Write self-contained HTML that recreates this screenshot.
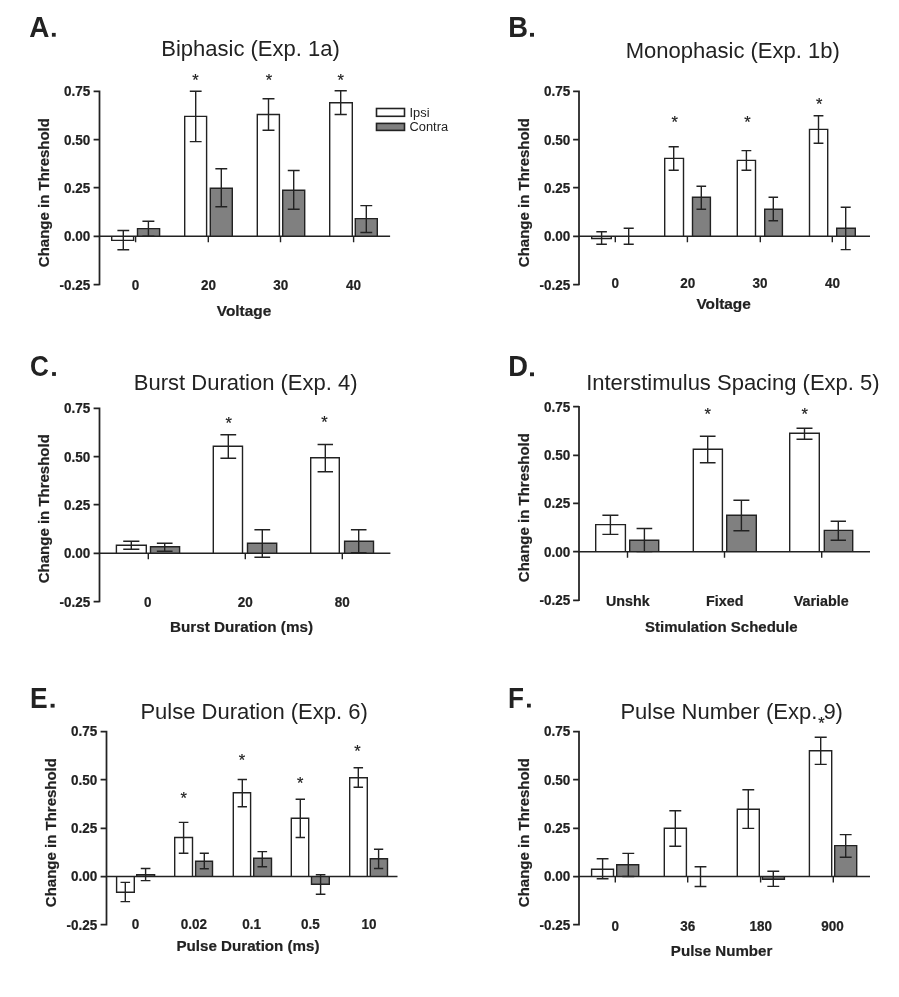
<!DOCTYPE html>
<html><head><meta charset="utf-8"><title>Figure</title>
<style>
html,body{margin:0;padding:0;background:#fff;}
body{width:899px;height:997px;overflow:hidden;}
svg{display:block;will-change:transform;}
text{font-family:"Liberation Sans", sans-serif;fill:#222;}
.let{font-size:29.7px;font-weight:bold;}
.tit{font-size:22px;text-anchor:middle;}
.tk{font-size:13.5px;font-weight:bold;stroke:#222;stroke-width:0.2px;}
.ax{font-size:15.4px;font-weight:bold;stroke:#222;stroke-width:0.2px;}
.st{font-size:16.5px;stroke:#222;stroke-width:0.2px;}
.lg{font-size:12.85px;}
.ln{fill:none;stroke:#222;stroke-width:1.4;stroke-linecap:butt;}
</style></head>
<body>
<svg width="899" height="997" viewBox="0 0 899 997">
<rect width="899" height="997" fill="#fff"/>
<text class="let" transform="translate(29.21 36.7) scale(0.94 1)">A</text>
<rect x="51.9" y="32.9" width="3.8" height="3.8" fill="#222"/>
<text class="tit" x="250.5" y="56.3">Biphasic (Exp. 1a)</text>
<rect x="111.7" y="236.3" width="21.9" height="4.1" fill="#fff"/>
<rect x="137.5" y="228.6" width="22.1" height="7.7" fill="#808080"/>
<rect x="184.7" y="116.4" width="21.9" height="119.9" fill="#fff"/>
<rect x="210.3" y="188.3" width="22" height="48" fill="#808080"/>
<rect x="257.3" y="114.5" width="22.1" height="121.8" fill="#fff"/>
<rect x="282.7" y="190.3" width="22" height="46" fill="#808080"/>
<rect x="329.7" y="102.7" width="22.6" height="133.6" fill="#fff"/>
<rect x="355.3" y="218.6" width="22" height="17.7" fill="#808080"/>
<path class="ln" d="M99.5 236.3H390.1"/>
<path class="ln" style="stroke-width:1.75" d="M99.5 90.61V285.33M93.6 284.63H99.5M93.6 236.3H99.5M93.6 187.7H99.5M93.6 139.64H99.5M93.6 91.31H99.5"/>
<path class="ln" d="M135.6 236.3V242.3M208.3 236.3V242.3M280.5 236.3V242.3M353.6 236.3V242.3"/>
<path class="ln" d="M111.7 236.3V240.4H133.6V236.3"/>
<path class="ln" d="M123.3 230.5V249.7M117.39 230.5H129.21M117.39 249.7H129.21"/>
<path class="ln" d="M137.5 236.3V228.6H159.6V236.3"/>
<path class="ln" d="M148.4 221.3V236.3M142.43 221.3H154.37M142.43 236.3H154.37"/>
<path class="ln" d="M184.7 236.3V116.4H206.6V236.3"/>
<path class="ln" d="M195.7 91.3V141.6M189.79 91.3H201.61M189.79 141.6H201.61"/>
<path class="ln" d="M210.3 236.3V188.3H232.3V236.3"/>
<path class="ln" d="M221.3 168.7V206.7M215.36 168.7H227.24M215.36 206.7H227.24"/>
<path class="ln" d="M257.3 236.3V114.5H279.4V236.3"/>
<path class="ln" d="M268.5 98.7V130.3M262.53 98.7H274.47M262.53 130.3H274.47"/>
<path class="ln" d="M282.7 236.3V190.3H304.7V236.3"/>
<path class="ln" d="M293.7 170.5V209.3M287.76 170.5H299.64M287.76 209.3H299.64"/>
<path class="ln" d="M329.7 236.3V102.7H352.3V236.3"/>
<path class="ln" d="M340.7 90.7V114.5M334.6 90.7H346.8M334.6 114.5H346.8"/>
<path class="ln" d="M355.3 236.3V218.6H377.3V236.3"/>
<path class="ln" d="M366.3 205.6V232.5M360.36 205.6H372.24M360.36 232.5H372.24"/>
<text class="tk" text-anchor="end" transform="translate(90.2 289.53) scale(1 1.1)">-0.25</text>
<text class="tk" text-anchor="end" transform="translate(90.2 241.2) scale(1 1.1)">0.00</text>
<text class="tk" text-anchor="end" transform="translate(90.2 192.87) scale(1 1.1)">0.25</text>
<text class="tk" text-anchor="end" transform="translate(90.2 144.54) scale(1 1.1)">0.50</text>
<text class="tk" text-anchor="end" transform="translate(90.2 96.21) scale(1 1.1)">0.75</text>
<text class="ax" style="font-size:15.0px" text-anchor="middle" transform="translate(49.3 192.6) rotate(-90) scale(1 0.97)">Change in Threshold</text>
<text class="tk" style="font-size:13.5px" text-anchor="middle" transform="translate(135.6 290.4) scale(1 1.1)">0</text>
<text class="tk" style="font-size:13.5px" text-anchor="middle" transform="translate(208.5 290.4) scale(1 1.1)">20</text>
<text class="tk" style="font-size:13.5px" text-anchor="middle" transform="translate(280.8 290.4) scale(1 1.1)">30</text>
<text class="tk" style="font-size:13.5px" text-anchor="middle" transform="translate(353.5 290.4) scale(1 1.1)">40</text>
<text class="ax" style="font-size:15.4px" text-anchor="middle" transform="translate(244 315.7) scale(1 1)">Voltage</text>
<text class="st" text-anchor="middle" x="195.4" y="86.06">*</text>
<text class="st" text-anchor="middle" x="268.9" y="86.06">*</text>
<text class="st" text-anchor="middle" x="340.7" y="86.26">*</text>
<rect x="376.5" y="108.5" width="28" height="7.8" fill="#fff" stroke="#222" stroke-width="1.6"/>
<rect x="376.5" y="123.4" width="28" height="7" fill="#808080" stroke="#222" stroke-width="1.6"/>
<text class="lg" x="409.5" y="116.5">Ipsi</text>
<text class="lg" x="409.5" y="130.8">Contra</text>
<text class="let" transform="translate(508.17 36.7) scale(0.92 1)">B</text>
<rect x="530" y="32.9" width="4" height="3.8" fill="#222"/>
<text class="tit" x="732.75" y="58.2">Monophasic (Exp. 1b)</text>
<rect x="591.7" y="236.3" width="19.6" height="2.2" fill="#fff"/>
<rect x="664.7" y="158.4" width="18.8" height="77.9" fill="#fff"/>
<rect x="692.5" y="197.3" width="17.9" height="39" fill="#808080"/>
<rect x="737.3" y="160.4" width="18.2" height="75.9" fill="#fff"/>
<rect x="764.7" y="209.3" width="17.7" height="27" fill="#808080"/>
<rect x="809.5" y="129.4" width="18.2" height="106.9" fill="#fff"/>
<rect x="836.7" y="228.3" width="18.6" height="8" fill="#808080"/>
<path class="ln" d="M579 236.3H870"/>
<path class="ln" style="stroke-width:1.75" d="M579 90.61V285.33M573.1 284.63H579M573.1 236.3H579M573.1 187.7H579M573.1 139.64H579M573.1 91.31H579"/>
<path class="ln" d="M615.3 236.3V242.3M687.4 236.3V242.3M760.3 236.3V242.3M832.3 236.3V242.3"/>
<path class="ln" d="M591.7 236.3V238.5H611.3V236.3"/>
<path class="ln" d="M601.6 231.7V244.3M596.31 231.7H606.89M596.31 244.3H606.89"/>
<path class="ln" d="M628.7 228.3V244.3M623.65 228.3H633.75M623.65 244.3H633.75"/>
<path class="ln" d="M664.7 236.3V158.4H683.5V236.3"/>
<path class="ln" d="M673.7 146.7V170.3M668.62 146.7H678.78M668.62 170.3H678.78"/>
<path class="ln" d="M692.5 236.3V197.3H710.4V236.3"/>
<path class="ln" d="M701.3 186.3V209.3M696.47 186.3H706.13M696.47 209.3H706.13"/>
<path class="ln" d="M737.3 236.3V160.4H755.5V236.3"/>
<path class="ln" d="M746.4 150.6V170.3M741.49 150.6H751.31M741.49 170.3H751.31"/>
<path class="ln" d="M764.7 236.3V209.3H782.4V236.3"/>
<path class="ln" d="M773.3 197.3V220.7M768.52 197.3H778.08M768.52 220.7H778.08"/>
<path class="ln" d="M809.5 236.3V129.4H827.7V236.3"/>
<path class="ln" d="M818.5 115.7V143.3M813.59 115.7H823.41M813.59 143.3H823.41"/>
<path class="ln" d="M836.7 236.3V228.3H855.3V236.3"/>
<path class="ln" d="M845.7 207.3V249.6M840.68 207.3H850.72M840.68 249.6H850.72"/>
<text class="tk" text-anchor="end" transform="translate(570.2 289.53) scale(1 1.1)">-0.25</text>
<text class="tk" text-anchor="end" transform="translate(570.2 241.2) scale(1 1.1)">0.00</text>
<text class="tk" text-anchor="end" transform="translate(570.2 192.87) scale(1 1.1)">0.25</text>
<text class="tk" text-anchor="end" transform="translate(570.2 144.54) scale(1 1.1)">0.50</text>
<text class="tk" text-anchor="end" transform="translate(570.2 96.21) scale(1 1.1)">0.75</text>
<text class="ax" style="font-size:15.0px" text-anchor="middle" transform="translate(529.3 192.6) rotate(-90) scale(1 0.97)">Change in Threshold</text>
<text class="tk" style="font-size:13.5px" text-anchor="middle" transform="translate(615.3 288.1) scale(1 1.1)">0</text>
<text class="tk" style="font-size:13.5px" text-anchor="middle" transform="translate(687.8 288.1) scale(1 1.1)">20</text>
<text class="tk" style="font-size:13.5px" text-anchor="middle" transform="translate(760 288.1) scale(1 1.1)">30</text>
<text class="tk" style="font-size:13.5px" text-anchor="middle" transform="translate(832.5 288.1) scale(1 1.1)">40</text>
<text class="ax" style="font-size:15.4px" text-anchor="middle" transform="translate(723.6 309.4) scale(1 1)">Voltage</text>
<text class="st" text-anchor="middle" x="674.6" y="128.16">*</text>
<text class="st" text-anchor="middle" x="747.4" y="128.16">*</text>
<text class="st" text-anchor="middle" x="819.3" y="109.56">*</text>
<text class="let" transform="translate(29.93 375.9) scale(0.88 1)">C</text>
<rect x="52.1" y="372.1" width="3.8" height="3.8" fill="#222"/>
<text class="tit" x="245.7" y="389.8">Burst Duration (Exp. 4)</text>
<rect x="116.4" y="545.3" width="29.9" height="8" fill="#fff"/>
<rect x="150.5" y="546.7" width="29.1" height="6.6" fill="#808080"/>
<rect x="213.3" y="446.3" width="29.2" height="107" fill="#fff"/>
<rect x="247.5" y="543.3" width="29.2" height="10" fill="#808080"/>
<rect x="310.7" y="457.7" width="28.6" height="95.6" fill="#fff"/>
<rect x="344.6" y="541.3" width="28.9" height="12" fill="#808080"/>
<path class="ln" d="M99.5 553.3H390.4"/>
<path class="ln" style="stroke-width:1.75" d="M99.5 407.61V602.33M93.6 601.63H99.5M93.6 553.3H99.5M93.6 504.7H99.5M93.6 456.64H99.5M93.6 408.31H99.5"/>
<path class="ln" d="M148.3 553.3V559.3M245.3 553.3V559.3M342.3 553.3V559.3"/>
<path class="ln" d="M116.4 553.3V545.3H146.3V553.3"/>
<path class="ln" d="M131.3 541.3V549.3M123.23 541.3H139.37M123.23 549.3H139.37"/>
<path class="ln" d="M150.5 553.3V546.7H179.6V553.3"/>
<path class="ln" d="M164.7 543.3V551.3M156.84 543.3H172.56M156.84 551.3H172.56"/>
<path class="ln" d="M213.3 553.3V446.3H242.5V553.3"/>
<path class="ln" d="M228.3 434.7V458.3M220.42 434.7H236.18M220.42 458.3H236.18"/>
<path class="ln" d="M247.5 553.3V543.3H276.7V553.3"/>
<path class="ln" d="M262.3 529.7V557.3M254.42 529.7H270.18M254.42 557.3H270.18"/>
<path class="ln" d="M310.7 553.3V457.7H339.3V553.3"/>
<path class="ln" d="M325.3 444.5V471.7M317.58 444.5H333.02M317.58 471.7H333.02"/>
<path class="ln" d="M344.6 553.3V541.3H373.5V553.3"/>
<path class="ln" d="M358.7 529.7V552.7M350.9 529.7H366.5M350.9 552.7H366.5"/>
<text class="tk" text-anchor="end" transform="translate(90.2 606.53) scale(1 1.1)">-0.25</text>
<text class="tk" text-anchor="end" transform="translate(90.2 558.2) scale(1 1.1)">0.00</text>
<text class="tk" text-anchor="end" transform="translate(90.2 509.87) scale(1 1.1)">0.25</text>
<text class="tk" text-anchor="end" transform="translate(90.2 461.54) scale(1 1.1)">0.50</text>
<text class="tk" text-anchor="end" transform="translate(90.2 413.21) scale(1 1.1)">0.75</text>
<text class="ax" style="font-size:15.0px" text-anchor="middle" transform="translate(49.3 508.7) rotate(-90) scale(1 0.97)">Change in Threshold</text>
<text class="tk" style="font-size:13.5px" text-anchor="middle" transform="translate(147.8 607.3) scale(1 1.1)">0</text>
<text class="tk" style="font-size:13.5px" text-anchor="middle" transform="translate(245.2 607.3) scale(1 1.1)">20</text>
<text class="tk" style="font-size:13.5px" text-anchor="middle" transform="translate(342.3 607.3) scale(1 1.1)">80</text>
<text class="ax" style="font-size:15.25px" text-anchor="middle" transform="translate(241.5 632.1) scale(1 1.01)">Burst Duration (ms)</text>
<text class="st" text-anchor="middle" x="228.7" y="428.76">*</text>
<text class="st" text-anchor="middle" x="324.5" y="428.36">*</text>
<text class="let" transform="translate(508.18 376.2) scale(0.92 1)">D</text>
<rect x="530" y="372.4" width="4" height="3.8" fill="#222"/>
<text class="tit" x="732.9" y="390">Interstimulus Spacing (Exp. 5)</text>
<rect x="595.7" y="524.6" width="29.7" height="27.1" fill="#fff"/>
<rect x="629.7" y="540.3" width="29" height="11.4" fill="#808080"/>
<rect x="693.3" y="449.3" width="29.1" height="102.4" fill="#fff"/>
<rect x="726.7" y="515.3" width="29.6" height="36.4" fill="#808080"/>
<rect x="789.7" y="433.3" width="29.6" height="118.4" fill="#fff"/>
<rect x="824.3" y="530.4" width="28.4" height="21.3" fill="#808080"/>
<path class="ln" d="M579 551.7H870"/>
<path class="ln" style="stroke-width:1.75" d="M579 406V601M573.1 600.3H579M573.1 551.7H579M573.1 503.37H579M573.1 455.3H579M573.1 406.7H579"/>
<path class="ln" d="M627.5 551.7V557.7M724.5 551.7V557.7M821.7 551.7V557.7"/>
<path class="ln" d="M595.7 551.7V524.6H625.4V551.7"/>
<path class="ln" d="M610.4 515.3V534.4M602.38 515.3H618.42M602.38 534.4H618.42"/>
<path class="ln" d="M629.7 551.7V540.3H658.7V551.7"/>
<path class="ln" d="M644.4 528.5V551.6M636.57 528.5H652.23M636.57 551.6H652.23"/>
<path class="ln" d="M693.3 551.7V449.3H722.4V551.7"/>
<path class="ln" d="M707.7 436.3V462.7M699.84 436.3H715.56M699.84 462.7H715.56"/>
<path class="ln" d="M726.7 551.7V515.3H756.3V551.7"/>
<path class="ln" d="M741.4 500.3V530.7M733.41 500.3H749.39M733.41 530.7H749.39"/>
<path class="ln" d="M789.7 551.7V433.3H819.3V551.7"/>
<path class="ln" d="M804.5 428.3V439.3M796.51 428.3H812.49M796.51 439.3H812.49"/>
<path class="ln" d="M824.3 551.7V530.4H852.7V551.7"/>
<path class="ln" d="M838.3 521.3V540.3M830.63 521.3H845.97M830.63 540.3H845.97"/>
<text class="tk" text-anchor="end" transform="translate(570.2 604.93) scale(1 1.1)">-0.25</text>
<text class="tk" text-anchor="end" transform="translate(570.2 556.6) scale(1 1.1)">0.00</text>
<text class="tk" text-anchor="end" transform="translate(570.2 508.27) scale(1 1.1)">0.25</text>
<text class="tk" text-anchor="end" transform="translate(570.2 459.94) scale(1 1.1)">0.50</text>
<text class="tk" text-anchor="end" transform="translate(570.2 411.61) scale(1 1.1)">0.75</text>
<text class="ax" style="font-size:15.0px" text-anchor="middle" transform="translate(529.3 507.6) rotate(-90) scale(1 0.97)">Change in Threshold</text>
<text class="tk" style="font-size:14.3px" text-anchor="middle" transform="translate(627.8 606.2) scale(1 1.04)">Unshk</text>
<text class="tk" style="font-size:14.3px" text-anchor="middle" transform="translate(724.7 606.2) scale(1 1.04)">Fixed</text>
<text class="tk" style="font-size:14.3px" text-anchor="middle" transform="translate(821.2 606.2) scale(1 1.04)">Variable</text>
<text class="ax" style="font-size:15.0px" text-anchor="middle" transform="translate(721.25 631.5) scale(1 1.03)">Stimulation Schedule</text>
<text class="st" text-anchor="middle" x="707.6" y="419.86">*</text>
<text class="st" text-anchor="middle" x="804.7" y="419.86">*</text>
<text class="let" transform="translate(30.12 707.6) scale(0.89 1)">E</text>
<rect x="50.6" y="703.8" width="4" height="3.8" fill="#222"/>
<text class="tit" x="254.1" y="718.9">Pulse Duration (Exp. 6)</text>
<rect x="116.6" y="876.5" width="17.7" height="15.8" fill="#fff"/>
<rect x="136.7" y="874.7" width="17.9" height="1.8" fill="#808080"/>
<rect x="174.7" y="837.5" width="17.8" height="39" fill="#fff"/>
<rect x="195.6" y="861.3" width="16.9" height="15.2" fill="#808080"/>
<rect x="233.3" y="792.7" width="17.3" height="83.8" fill="#fff"/>
<rect x="253.7" y="858.3" width="17.8" height="18.2" fill="#808080"/>
<rect x="291.3" y="818.3" width="17.4" height="58.2" fill="#fff"/>
<rect x="311.5" y="876.5" width="17.8" height="7.8" fill="#808080"/>
<rect x="349.7" y="777.7" width="17.6" height="98.8" fill="#fff"/>
<rect x="370.3" y="858.7" width="17.2" height="17.8" fill="#808080"/>
<path class="ln" d="M106.5 876.5H397.5"/>
<path class="ln" style="stroke-width:1.75" d="M106.5 730.81V925.4M100.6 924.7H106.5M100.6 876.5H106.5M100.6 828.3H106.5M100.6 779.7H106.5M100.6 731.51H106.5"/>
<path class="ln" d="M116.6 876.5V892.3H134.3V876.5"/>
<path class="ln" d="M125.3 882.4V901.6M120.52 882.4H130.08M120.52 901.6H130.08"/>
<path class="ln" d="M136.7 876.5V874.7H154.6V876.5"/>
<path class="ln" d="M145.6 868.5V880.6M140.77 868.5H150.43M140.77 880.6H150.43"/>
<path class="ln" d="M174.7 876.5V837.5H192.5V876.5"/>
<path class="ln" d="M183.6 822.4V853.3M178.79 822.4H188.41M178.79 853.3H188.41"/>
<path class="ln" d="M195.6 876.5V861.3H212.5V876.5"/>
<path class="ln" d="M204.3 853.3V868.7M199.74 853.3H208.86M199.74 868.7H208.86"/>
<path class="ln" d="M233.3 876.5V792.7H250.6V876.5"/>
<path class="ln" d="M242.3 779.5V806.7M237.63 779.5H246.97M237.63 806.7H246.97"/>
<path class="ln" d="M253.7 876.5V858.3H271.5V876.5"/>
<path class="ln" d="M262.3 851.6V866.7M257.49 851.6H267.11M257.49 866.7H267.11"/>
<path class="ln" d="M291.3 876.5V818.3H308.7V876.5"/>
<path class="ln" d="M300.3 799.3V837.5M295.6 799.3H305M295.6 837.5H305"/>
<path class="ln" d="M311.5 876.5V884.3H329.3V876.5"/>
<path class="ln" d="M320.6 874.7V894.3M315.79 874.7H325.41M315.79 894.3H325.41"/>
<path class="ln" d="M349.7 876.5V777.7H367.3V876.5"/>
<path class="ln" d="M358.3 767.7V787.3M353.55 767.7H363.05M353.55 787.3H363.05"/>
<path class="ln" d="M370.3 876.5V858.7H387.5V876.5"/>
<path class="ln" d="M378.6 849.3V868.5M373.96 849.3H383.24M373.96 868.5H383.24"/>
<text class="tk" text-anchor="end" transform="translate(97.2 929.73) scale(1 1.1)">-0.25</text>
<text class="tk" text-anchor="end" transform="translate(97.2 881.4) scale(1 1.1)">0.00</text>
<text class="tk" text-anchor="end" transform="translate(97.2 833.07) scale(1 1.1)">0.25</text>
<text class="tk" text-anchor="end" transform="translate(97.2 784.74) scale(1 1.1)">0.50</text>
<text class="tk" text-anchor="end" transform="translate(97.2 736.41) scale(1 1.1)">0.75</text>
<text class="ax" style="font-size:15.0px" text-anchor="middle" transform="translate(56.3 832.6) rotate(-90) scale(1 0.97)">Change in Threshold</text>
<text class="tk" style="font-size:13.5px" text-anchor="middle" transform="translate(135.5 929.2) scale(1 1.1)">0</text>
<text class="tk" style="font-size:13.5px" text-anchor="middle" transform="translate(193.9 929.2) scale(1 1.1)">0.02</text>
<text class="tk" style="font-size:13.5px" text-anchor="middle" transform="translate(251.6 929.2) scale(1 1.1)">0.1</text>
<text class="tk" style="font-size:13.5px" text-anchor="middle" transform="translate(310.4 929.2) scale(1 1.1)">0.5</text>
<text class="tk" style="font-size:13.5px" text-anchor="middle" transform="translate(368.9 929.2) scale(1 1.1)">10</text>
<text class="ax" style="font-size:15.15px" text-anchor="middle" transform="translate(248 950.5) scale(1 1.02)">Pulse Duration (ms)</text>
<text class="st" text-anchor="middle" x="183.6" y="803.96">*</text>
<text class="st" text-anchor="middle" x="242" y="766.46">*</text>
<text class="st" text-anchor="middle" x="300.2" y="788.66">*</text>
<text class="st" text-anchor="middle" x="357.5" y="756.86">*</text>
<text class="let" transform="translate(508.06 707.5) scale(0.88 1)">F</text>
<rect x="527" y="703.7" width="3.8" height="3.8" fill="#222"/>
<text class="tit" x="731.7" y="718.9">Pulse Number (Exp. 9)</text>
<rect x="591.6" y="869.3" width="21.9" height="7.2" fill="#fff"/>
<rect x="616.7" y="864.7" width="22" height="11.8" fill="#808080"/>
<rect x="664.3" y="828.3" width="22.1" height="48.2" fill="#fff"/>
<rect x="737.3" y="809.3" width="22" height="67.2" fill="#fff"/>
<rect x="762.4" y="876.5" width="22" height="2.8" fill="#808080"/>
<rect x="809.4" y="750.7" width="22.3" height="125.8" fill="#fff"/>
<rect x="834.7" y="845.6" width="22" height="30.9" fill="#808080"/>
<path class="ln" d="M579 876.5H870"/>
<path class="ln" style="stroke-width:1.75" d="M579 730.81V925.4M573.1 924.7H579M573.1 876.5H579M573.1 828.3H579M573.1 779.7H579M573.1 731.51H579"/>
<path class="ln" d="M615.3 876.5V882.5M687.7 876.5V882.5M760.6 876.5V882.5M833.3 876.5V882.5"/>
<path class="ln" d="M591.6 876.5V869.3H613.5V876.5"/>
<path class="ln" d="M602.6 858.7V878.7M596.69 858.7H608.51M596.69 878.7H608.51"/>
<path class="ln" d="M616.7 876.5V864.7H638.7V876.5"/>
<path class="ln" d="M628.3 853.4V876.5M622.36 853.4H634.24M622.36 876.5H634.24"/>
<path class="ln" d="M664.3 876.5V828.3H686.4V876.5"/>
<path class="ln" d="M675.3 810.7V846.3M669.33 810.7H681.27M669.33 846.3H681.27"/>
<path class="ln" d="M700.5 866.7V886.5M694.59 866.7H706.41M694.59 886.5H706.41"/>
<path class="ln" d="M737.3 876.5V809.3H759.3V876.5"/>
<path class="ln" d="M748.3 789.7V828.4M742.36 789.7H754.24M742.36 828.4H754.24"/>
<path class="ln" d="M762.4 876.5V879.3H784.4V876.5"/>
<path class="ln" d="M773.3 871.3V886.4M767.36 871.3H779.24M767.36 886.4H779.24"/>
<path class="ln" d="M809.4 876.5V750.7H831.7V876.5"/>
<path class="ln" d="M820.7 737.3V764.4M814.68 737.3H826.72M814.68 764.4H826.72"/>
<path class="ln" d="M834.7 876.5V845.6H856.7V876.5"/>
<path class="ln" d="M845.7 834.6V857.3M839.76 834.6H851.64M839.76 857.3H851.64"/>
<text class="tk" text-anchor="end" transform="translate(570.2 929.73) scale(1 1.1)">-0.25</text>
<text class="tk" text-anchor="end" transform="translate(570.2 881.4) scale(1 1.1)">0.00</text>
<text class="tk" text-anchor="end" transform="translate(570.2 833.07) scale(1 1.1)">0.25</text>
<text class="tk" text-anchor="end" transform="translate(570.2 784.74) scale(1 1.1)">0.50</text>
<text class="tk" text-anchor="end" transform="translate(570.2 736.41) scale(1 1.1)">0.75</text>
<text class="ax" style="font-size:15.0px" text-anchor="middle" transform="translate(529.3 832.6) rotate(-90) scale(1 0.97)">Change in Threshold</text>
<text class="tk" style="font-size:13.5px" text-anchor="middle" transform="translate(615.3 930.7) scale(1 1.1)">0</text>
<text class="tk" style="font-size:13.5px" text-anchor="middle" transform="translate(687.8 930.7) scale(1 1.1)">36</text>
<text class="tk" style="font-size:13.5px" text-anchor="middle" transform="translate(760.7 930.7) scale(1 1.1)">180</text>
<text class="tk" style="font-size:13.5px" text-anchor="middle" transform="translate(832.6 930.7) scale(1 1.1)">900</text>
<text class="ax" style="font-size:15.1px" text-anchor="middle" transform="translate(721.6 956.4) scale(1 1.02)">Pulse Number</text>
<text class="st" text-anchor="middle" x="821.4" y="729.36">*</text>
</svg>
</body></html>
